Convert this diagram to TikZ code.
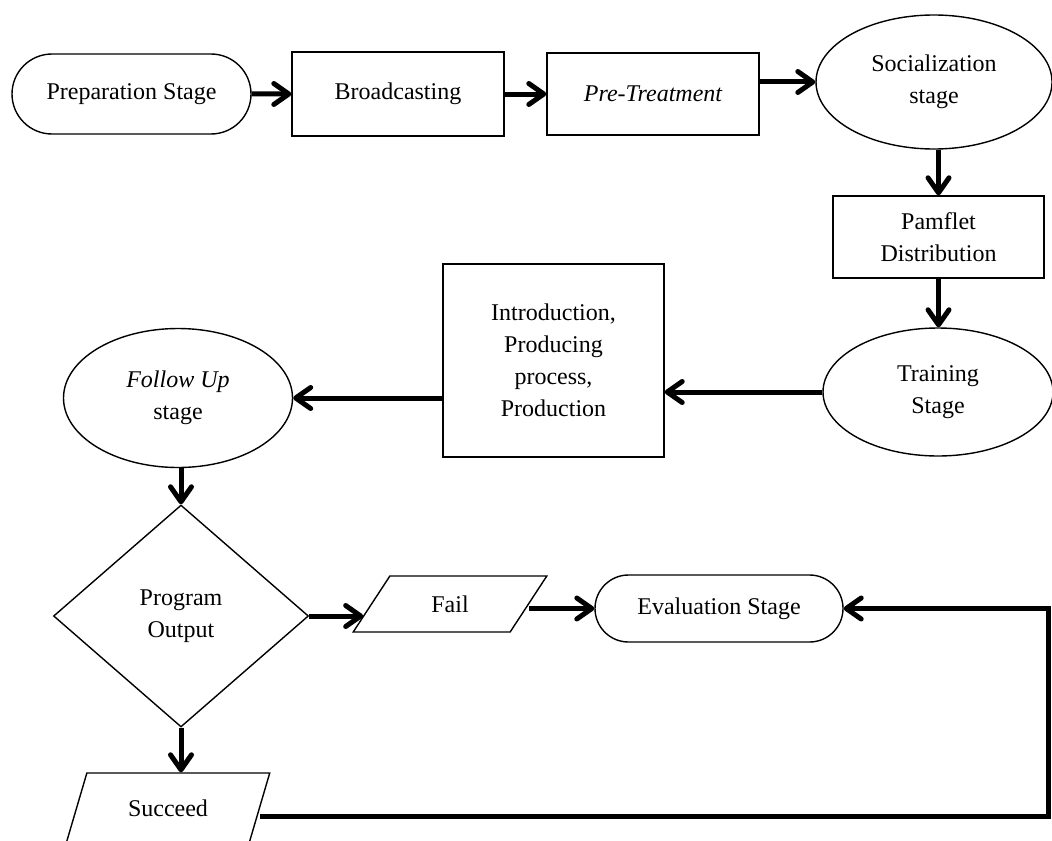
\documentclass[tikz,border=0pt]{standalone}
\usepackage{fontspec}
\setmainfont{Liberation Serif}
\usetikzlibrary{shapes.geometric,shapes.misc,arrows.meta,calc}
\begin{document}
\begin{tikzpicture}[x=0.5pt,y=-0.5pt,
  every node/.style={font=\fontsize{12}{16}\selectfont, align=center, inner sep=0pt},
  shp/.style={draw, line width=0.7pt},
  box/.style={shp, rectangle},
  term/.style={shp, rounded rectangle},
  ell/.style={shp, ellipse},
  dec/.style={shp, diamond},
  io/.style={shp, trapezium, trapezium stretches=true},
  arr/.style={line width=2.5pt, -{Straight Barb[length=7.5pt,width=10.5pt,round]}}
]
\clip (0,0) rectangle (1052,840);
\fill[white] (0,0) rectangle (1052,840);

% top row
\node[term, minimum width=119.5pt, minimum height=40pt] (prep) at (131.5,94) {Preparation Stage};
\node[box, minimum width=106pt, minimum height=42pt] (broad) at (398,94) {Broadcasting};
\node[box, minimum width=106pt, minimum height=41pt] (pre) at (653,94) {\itshape Pre-Treatment};
\node[ell, minimum width=118pt, minimum height=67pt] (soc) at (934,82) {Socialization\\stage};

% right column
\node[box, minimum width=105.5pt, minimum height=41pt] (pam) at (938.5,237) {Pamflet\\Distribution};
\node[ell, minimum width=115pt, minimum height=64pt] (train) at (938,392) {Training\\Stage};

% middle row
\node[box, minimum width=110.5pt, minimum height=96.5pt] (intro) at (553.5,360.5) {Introduction,\\Producing\\process,\\Production};
\node[ell, minimum width=114.5pt, minimum height=69.5pt] (follow) at (178,398) {\itshape Follow Up\\stage};

% decision and outputs
\node[dec, minimum width=127.5pt, minimum height=111pt] (dia) at (181,616) {Program\\Output};
\node[io, trapezium left angle=56, trapezium right angle=124, minimum width=97pt, minimum height=28pt] (fail) at (450,604) {Fail};
\node[io, trapezium left angle=59, trapezium right angle=121, minimum width=102pt, minimum height=35pt] (succ) at (168,808) {Succeed};
\node[term, minimum width=124pt, minimum height=33.5pt] (eval) at (719,608.5) {Evaluation Stage};

% connectors
\coordinate (failin) at ($(fail.bottom left corner)!0.3!(fail.top left corner)$);
\draw[arr] (prep) -- (broad);
\draw[arr] (broad) -- (pre);
\draw[arr] (pre.east |- soc.west) -- (soc.west);
\draw[arr] (soc.south -| pam.north) -- (pam.north);
\draw[arr] (pam.south) -- (pam.south |- train.north);
\draw[arr] (train.west) -- (train.west -| intro.east);
\draw[arr] (intro.west |- follow.east) -- (follow.east);
\draw[arr] (follow.south -| dia.north) -- (dia.north);
\draw[arr] (dia.east) -- (failin |- dia.east);
\draw[arr] (eval.west -| fail.right side) -- (eval.west);
\draw[arr] (dia.south) -- (dia.south |- succ.north);
\coordinate (lb) at (1048,816);
\draw[arr] (succ.east |- lb) -- (lb) |- (eval.east);
\end{tikzpicture}
\end{document}
